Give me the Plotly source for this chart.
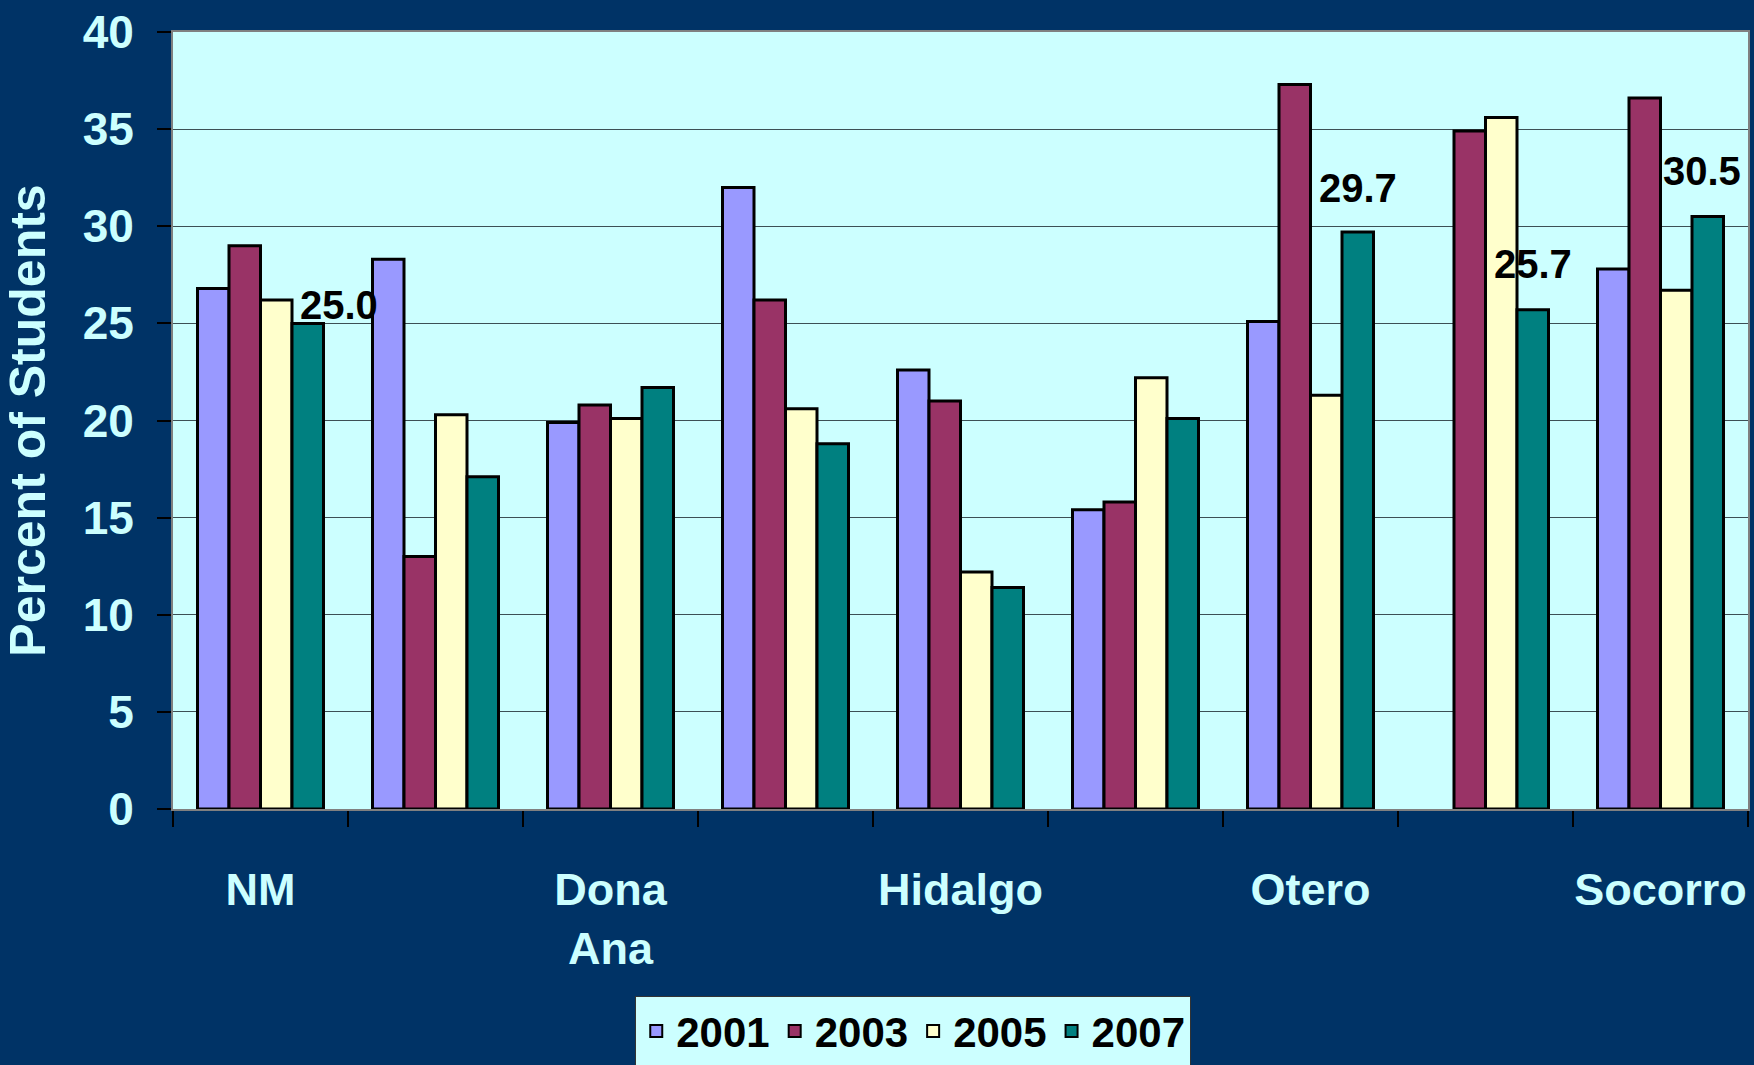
import plotly.graph_objects as go

# ---------------- data ----------------
categories = ["NM", "Catron", "Dona Ana", "Grant", "Hidalgo", "Luna", "Otero", "Sierra", "Socorro"]
tick_labels = ["NM", "", "Dona<br>Ana", "", "Hidalgo", "", "Otero", "", "Socorro"]
years = ["2001", "2003", "2005", "2007"]
v2001 = [26.8, 28.3, 19.9, 32.0, 22.6, 15.4, 25.1, None, 27.8]
v2003 = [29.0, 13.0, 20.8, 26.2, 21.0, 15.8, 37.3, 34.9, 36.6]
v2005 = [26.2, 20.3, 20.1, 20.6, 12.2, 22.2, 21.3, 35.6, 26.7]
v2007 = [25.0, 17.1, 21.7, 18.8, 11.4, 20.1, 29.7, 25.7, 30.5]
labelled = ["NM", "Otero", "Sierra", "Socorro"]   # categories whose 2007 value is printed
y_ticks = [0, 5, 10, 15, 20, 25, 30, 35, 40]

# ---------------- style ----------------
colors = ["#9999FF", "#993366", "#FFFFCC", "#008080"]
label_nudge = {"NM": (31, -6), "Otero": (0, 20), "Sierra": (0, 22), "Socorro": (-6, 22)}
PAPER = "#003366"
PLOT = "#CCFFFF"
TXT = "#CCFFFF"
NARROW = "Liberation Sans Narrow, Arial Narrow, Liberation Sans, Arial, sans-serif"
WIDE = "Liberation Sans, Arial, sans-serif"

W, H = 1754, 1065
ml, mr, mt, mb = 173, 6, 32, 256
bargap = 0.28

fig = go.Figure()
for yr, vals, c in zip(years, [v2001, v2003, v2005, v2007], colors):
    fig.add_trace(go.Bar(
        name=yr, x=categories, y=vals,
        marker=dict(color=c, line=dict(color="black", width=3)),
    ))

# data labels on the 2007 series
plot_w = W - ml - mr
cat_px = plot_w / len(categories)
bar_px = cat_px * (1 - bargap) / len(years)
offset_last = (len(years) - 1 - (len(years) - 1) / 2) * bar_px
for cat in labelled:
    i = categories.index(cat)
    dx, dy = label_nudge[cat]
    fig.add_annotation(
        x=cat, y=v2007[i], xref="x", yref="y",
        text=f"{v2007[i]:.1f}", showarrow=False,
        xanchor="center", yanchor="bottom",
        xshift=offset_last + dx, yshift=dy,
        font=dict(family=NARROW, size=40, color="black", weight="bold"),
    )

fig.update_layout(
    width=W, height=H,
    margin=dict(l=ml, r=mr, t=mt, b=mb, autoexpand=False),
    paper_bgcolor=PAPER, plot_bgcolor=PLOT,
    barmode="group", bargap=bargap, bargroupgap=0,
    font=dict(family=NARROW, color=TXT),
    showlegend=True,
    legend=dict(
        orientation="h", x=0.47, xanchor="center", y=-0.241, yanchor="top",
        bgcolor=PLOT, bordercolor="#333333", borderwidth=1,
        font=dict(family=NARROW, size=42, color="black", weight="bold"),
        itemsizing="constant", traceorder="normal",
    ),
    xaxis=dict(
        type="category", tickmode="array", tickvals=categories, ticktext=tick_labels,
        tickson="boundaries", ticks="outside", ticklen=16, tickcolor="black", tickwidth=1.5,
        ticklabelstandoff=40, tickangle=0, automargin=False,
        tickfont=dict(family=NARROW, size=45, color=TXT, weight="bold"),
        showline=True, linecolor="#808080", linewidth=2, mirror=True,
        showgrid=False,
    ),
    yaxis=dict(
        range=[0, 40], tickmode="array", tickvals=y_ticks,
        ticks="outside", ticklen=14, tickcolor="black", tickwidth=1.5,
        ticklabelstandoff=14, automargin=False,
        tickfont=dict(family=NARROW, size=46, color=TXT, weight="bold"),
        showgrid=True, gridcolor="#3c4f55", gridwidth=1.2,
        zeroline=False,
        showline=True, linecolor="#808080", linewidth=2, mirror=True,
        title=dict(text="Percent of Students", standoff=26,
                   font=dict(family=WIDE, size=50, color=TXT, weight="bold")),
    ),
)

fig.write_html(
    "out.html",
    config={"displayModeBar": False},
    post_script="document.body.style.margin='0';document.body.style.overflow='hidden';",
)
